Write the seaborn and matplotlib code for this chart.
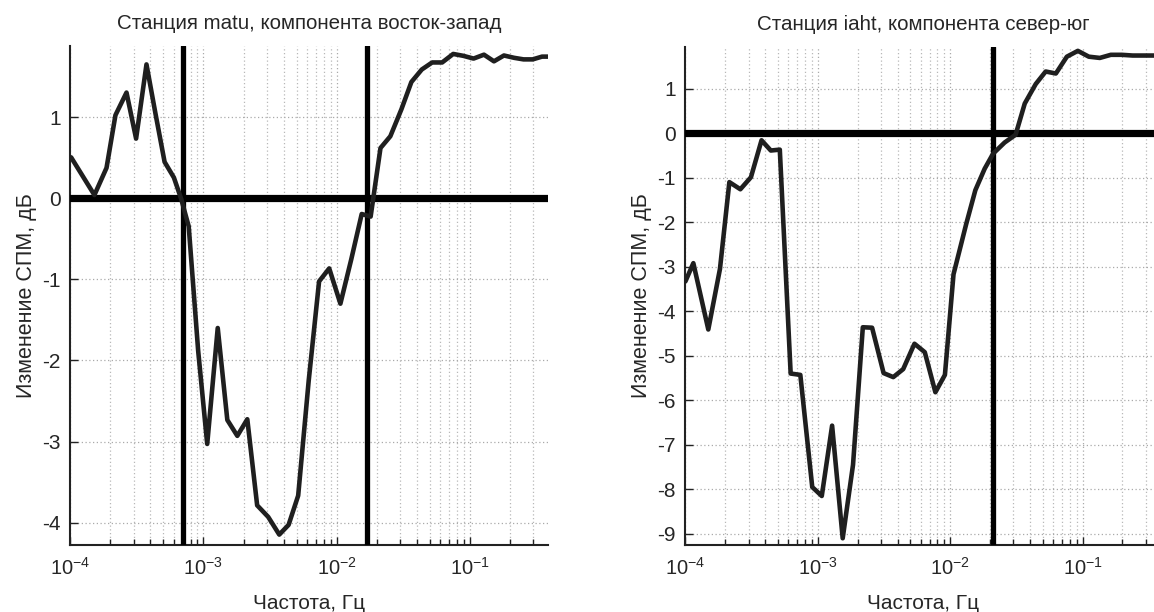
import numpy as np
import pandas as pd
import seaborn as sns
import matplotlib
matplotlib.use("Agg")
import matplotlib.pyplot as plt
from matplotlib.ticker import LogLocator, FixedLocator, FixedFormatter, NullFormatter

# ---------------- data ----------------
# station matu, east-west component: log10(frequency, Hz) and PSD change, dB
matu_logf = [-3.994, -3.819, -3.728, -3.661, -3.578, -3.506, -3.428, -3.361, -3.292,
             -3.222, -3.167, -3.111, -3.04, -2.972, -2.893, -2.821, -2.746, -2.671,
             -2.597, -2.514, -2.431, -2.361, -2.289, -2.21, -2.132, -2.056, -1.972,
             -1.89, -1.812, -1.745, -1.671, -1.597, -1.514, -1.439, -1.361, -1.283,
             -1.208, -1.125, -1.05, -0.972, -0.894, -0.819, -0.744, -0.667, -0.597,
             -0.528, -0.458, -0.411]
matu_db = [0.505, 0.04, 0.375, 1.025, 1.304, 0.736, 1.651, 1.049, 0.448,
           0.255, -0.01, -0.346, -1.88, -3.03, -1.60, -2.734, -2.93, -2.725,
           -3.787, -3.93, -4.148, -4.028, -3.667, -2.25, -1.025, -0.865, -1.30,
           -0.75, -0.194, -0.226, 0.62, 0.765, 1.097, 1.434, 1.588, 1.675,
           1.675, 1.78, 1.757, 1.723, 1.771, 1.689, 1.761, 1.732, 1.713,
           1.713, 1.747, 1.747]
matu_vlines = [7.03e-4, 0.01686]

# station iaht, north-south component
iaht_logf = [-4.0, -3.94, -3.827, -3.739, -3.668, -3.585, -3.505, -3.425, -3.355,
             -3.287, -3.205, -3.132, -3.042, -2.97, -2.892, -2.812, -2.734, -2.66,
             -2.59, -2.503, -2.43, -2.355, -2.27, -2.192, -2.112, -2.04, -1.975,
             -1.88, -1.81, -1.74, -1.676, -1.589, -1.506, -1.437, -1.354, -1.279,
             -1.202, -1.119, -1.036, -0.953, -0.87, -0.787, -0.705, -0.622, -0.539,
             -0.411]
iaht_db = [-3.33, -2.92, -4.41, -3.05, -1.10, -1.26, -0.99, -0.16, -0.39,
           -0.37, -5.40, -5.43, -7.95, -8.15, -6.57, -9.10, -7.45, -4.36,
           -4.37, -5.39, -5.48, -5.30, -4.73, -4.92, -5.82, -5.43, -3.17,
           -2.05, -1.28, -0.80, -0.46, -0.21, -0.035, 0.666, 1.104, 1.385,
           1.34, 1.718, 1.849, 1.718, 1.69, 1.76, 1.76, 1.744, 1.744,
           1.744]
iaht_vlines = [0.0210]

titles = ["Станция matu, компонента восток-запад", "Станция iaht, компонента север-юг"]
xlabel = "Частота, Гц"
ylabel = "Изменение СПМ, дБ"
xticks = [1e-4, 1e-3, 1e-2, 1e-1]
xticklabels = ["$10^{-4}$", "$10^{-3}$", "$10^{-2}$", "$10^{-1}$"]
yticks_left = [1, 0, -1, -2, -3, -4]
yticks_right = [1, 0, -1, -2, -3, -4, -5, -6, -7, -8, -9]

# ---------------- style ----------------
sns.set_theme(style="ticks")
plt.rcParams.update({
    "font.family": ["Liberation Sans", "DejaVu Sans"],
    "mathtext.fontset": "custom",
    "mathtext.rm": "Liberation Sans",
    "mathtext.it": "Liberation Sans",
    "mathtext.bf": "Liberation Sans",
    "axes.unicode_minus": False,
})

fig = plt.figure(figsize=(11.54, 6.12), dpi=100)
W, H = 1154, 612

def px_axes(l, t, r, b):
    return fig.add_axes([l / W, 1 - b / H, (r - l) / W, (b - t) / H])

axL = px_axes(70.3, 46.0, 548.3, 544.5)
axR = px_axes(685.4, 46.8, 1160.6, 544.5)

panels = [
    (axL, matu_logf, matu_db, matu_vlines, yticks_left, (-4.27, 1.878), titles[0]),
    (axR, iaht_logf, iaht_db, iaht_vlines, yticks_right, (-9.24, 1.94), titles[1]),
]

for ax, logf, db, vl, yt, ylim, title in panels:
    df = pd.DataFrame({"f": 10 ** np.array(logf), "db": db})
    ax.set_xscale("log")
    ax.grid(True, which="major", axis="both", color="#aaaaaa", linestyle=(0, (1, 2)), linewidth=0.9)
    ax.grid(True, which="minor", axis="x", color="#b8b8b8", linestyle=(0, (1, 2)), linewidth=0.9)
    ax.axhline(0, color="black", linewidth=5.2, zorder=3)
    for v in vl:
        ax.axvline(v, color="black", linewidth=3.8, zorder=3)
    sns.lineplot(data=df, x="f", y="db", ax=ax, color="#1f1f1f", linewidth=3.3,
                 zorder=4, legend=False)
    ax.set_xlim(1e-4, 10 ** -0.411)
    ax.set_ylim(*ylim)
    ax.xaxis.set_major_locator(FixedLocator(xticks))
    ax.xaxis.set_major_formatter(FixedFormatter(xticklabels))
    ax.xaxis.set_minor_locator(LogLocator(base=10, subs=np.arange(2, 10)))
    ax.xaxis.set_minor_formatter(NullFormatter())
    ax.set_yticks(yt)
    ax.set_yticklabels([str(v) for v in yt])
    ax.tick_params(axis="both", which="both", direction="in", color="#222222", width=1.0)
    ax.tick_params(axis="both", which="major", length=6)
    ax.tick_params(axis="x", which="minor", length=4)
    ax.tick_params(axis="x", which="major", labelsize=14.5, pad=9)
    ax.tick_params(axis="y", which="major", labelsize=15, pad=7)
    for side in ["top", "right"]:
        ax.spines[side].set_visible(False)
    for side in ["left", "bottom"]:
        ax.spines[side].set_color("#222222")
        ax.spines[side].set_linewidth(1.5)
    ax.set_title(title, fontsize=14.8, pad=12)
    ax.set_xlabel(xlabel, fontsize=15, labelpad=11)
    ax.set_ylabel(ylabel, fontsize=15.5, labelpad=4)

fig.savefig("out.png", dpi=100)
